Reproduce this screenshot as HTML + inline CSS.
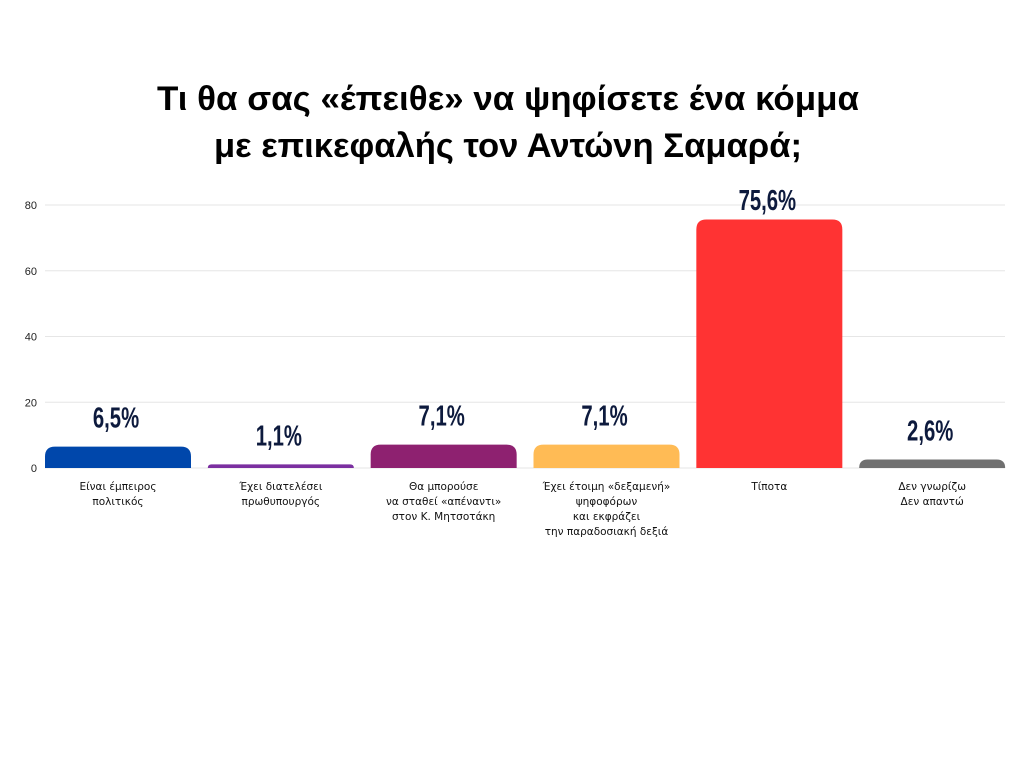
<!DOCTYPE html>
<html><head><meta charset="utf-8"><style>
body{margin:0;background:#fff;width:1024px;height:768px;overflow:hidden}
svg{display:block}
.title{font-family:"Liberation Sans",sans-serif;font-weight:bold;font-size:34px;fill:#000}
.tick{font-family:"Liberation Sans",sans-serif;font-size:11px;fill:#222}
.cat{font-family:"DejaVu Sans","Liberation Sans",sans-serif;font-size:10.5px;fill:#111}
.val{font-family:"Liberation Sans",sans-serif;font-weight:bold;font-size:29px;fill:#0d1a3d}
</style></head><body>
<svg id="chart" width="1024" height="768" xmlns="http://www.w3.org/2000/svg">
<text class="title" x="508" y="110" text-anchor="middle" textLength="702" lengthAdjust="spacingAndGlyphs">Τι θα σας «έπειθε» να ψηφίσετε ένα κόμμα</text>
<text class="title" x="508" y="157" text-anchor="middle" textLength="588" lengthAdjust="spacingAndGlyphs">με επικεφαλής τον Αντώνη Σαμαρά;</text>
<g id="grid"></g><g id="bars"></g>
</svg>
<script>
const categories=[["Είναι έμπειρος","πολιτικός"],["Έχει διατελέσει","πρωθυπουργός"],["Θα μπορούσε","να σταθεί «απέναντι»","στον Κ. Μητσοτάκη"],["Έχει έτοιμη «δεξαμενή»","ψηφοφόρων","και εκφράζει","την παραδοσιακή δεξιά"],["Τίποτα"],["Δεν γνωρίζω","Δεν απαντώ"]];
const values=[6.5,1.1,7.1,7.1,75.6,2.6];
const valueLabels=["6,5%","1,1%","7,1%","7,1%","75,6%","2,6%"];
const colors=["#0047ab","#7b2fa0","#8e2170","#ffbb55","#ff3333","#707070"];
const ticks=[0,20,40,60,80];
const NS="http://www.w3.org/2000/svg";
const x0=45,x1=1005,y0=468,y80=205;
const y=v=>y0-(v/80)*(y0-y80);
const slot=(x1-x0+17)/values.length, bw=146;
const xb=i=>x0+i*slot;
function mk(t,a,p){const e=document.createElementNS(NS,t);for(const k in a)e.setAttribute(k,a[k]);p.appendChild(e);return e;}
const grid=document.getElementById('grid'),bars=document.getElementById('bars');
ticks.forEach(t=>{
 const l=mk('line',{x1:x0,x2:x1,y1:y(t),y2:y(t),stroke:'#e6e6e6','stroke-width':1},grid);
 
 
 const tx=mk('text',{class:'tick',x:37,y:y(t)+4,'text-anchor':'end'},grid);tx.textContent=t;
 
 
});
values.forEach((v,i)=>{
 const x=xb(i),top=y(v),h=y0-top,r=Math.min(10,h);
 const d=`M${x},${y0}V${top+r}Q${x},${top} ${x+r},${top}H${x+bw-r}Q${x+bw},${top} ${x+bw},${top+r}V${y0}Z`;
 const p=mk('path',{d:d,fill:colors[i]},bars);
 
 
 const cx=x+bw/2;
 const ly=Math.max(top-19,210);
 const vt=mk('text',{class:'val',x:0,y:0,'text-anchor':'middle',transform:`translate(${cx-2},${ly}) scale(0.7,1)`},bars);vt.textContent=valueLabels[i];
 
 
 categories[i].forEach((line,j)=>{
  const c=mk('text',{class:'cat',x:cx,y:490+j*15,'text-anchor':'middle'},bars);c.textContent=line;
  
  
 });
});
</script>
</body></html>
